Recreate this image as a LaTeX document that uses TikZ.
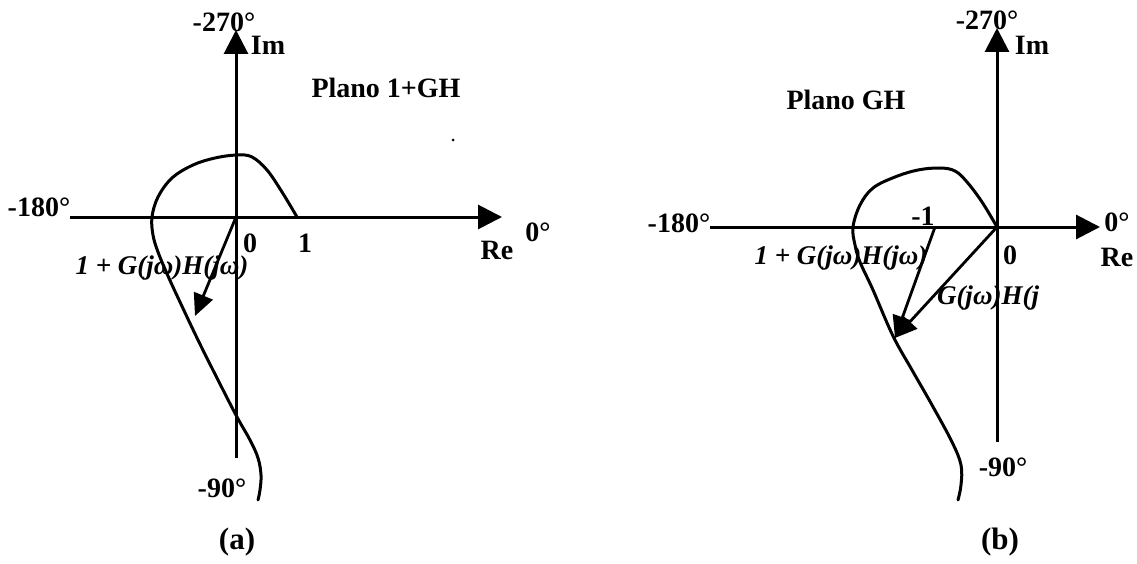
\documentclass[tikz,border=0pt]{standalone}
\usepackage{fontspec}
\setmainfont{Liberation Serif}
\usetikzlibrary{arrows.meta}
\tikzset{
  ax/.style={line width=3pt, -{Triangle[length=24pt,width=24pt]}},
  vec/.style={line width=2.8pt, -{Triangle[length=22pt,width=20pt]}},
  crv/.style={line width=3pt, line join=round, line cap=round},
  lbl/.style={font=\fontsize{28}{30}\selectfont\bfseries, inner sep=0pt},
  vlbl/.style={font=\fontsize{27}{30}\selectfont\bfseries\itshape, inner sep=0pt},
  capt/.style={font=\fontsize{31}{34}\selectfont\bfseries, inner sep=0pt},
}

\begin{document}
\begin{tikzpicture}[x=1pt,y=-1pt]
\useasboundingbox (0,0) rectangle (1137,564);
\coordinate (oa) at (236,217);
\coordinate (ima) at (236,30);
\coordinate (bota) at (236,458);
\coordinate (lefta) at (70,217);
\coordinate (rea) at (502,217);
\coordinate (pa) at (195,316);
\draw[ax] (bota) -- (ima);
\draw[ax] (lefta) -- (rea);
\draw[crv] plot[smooth,tension=0.6] coordinates {(297,217) (282,192) (267,170) (252,157) (237,155)
  (215,158) (193,165) (172,178) (158,197) (152,217) (153,235) (158,252) (168,276) (180,302)
  (198,340) (218,380) (237,417) (250,440) (258,458) (261,475) (260,490) (258,500)};
\draw[vec] (oa) -- (pa);
\fill (453,140) circle (1.5pt);
\node[lbl] (m180a) at (39,207) {-180°};
\node[lbl] (m270a) at (224,22) {-270°};
\node[lbl] (ima-l) at (268,45) {Im};
\node[lbl] (z0a) at (538,232) {0°};
\node[lbl] (rea-l) at (497,250) {Re};
\node[lbl] (zeroa) at (250,243) {0};
\node[lbl] (onea) at (305,243) {1};
\node[lbl] (plana) at (386,88) {Plano 1+GH};
\node[vlbl] (veca) at (162,268) {1 + G(jω)H(jω)};
\node[lbl] (m90a) at (222,488) {-90°};
\node[capt] (capa) at (237,542) {(a)};
\coordinate (ob) at (997,227);
\coordinate (imb) at (997,28);
\coordinate (botb) at (997,442);
\coordinate (leftb) at (710,227);
\coordinate (reb) at (1100,227);
\coordinate (mb) at (935,227);
\coordinate (pb) at (895,338);
\draw[ax] (botb) -- (imb);
\draw[ax] (leftb) -- (reb);
\draw[crv] plot[smooth,tension=0.6] coordinates {(997,227) (982,202) (967,182) (955,171) (940,168)
  (918,170) (895,177) (873,188) (860,205) (853,227) (855,245) (860,262) (873,290) (893,336)
  (912,370) (932,405) (952,442) (961,465) (961,485) (958,500)};
\draw[vec] (ob) -- (pb);
\draw[vec] (mb) -- (pb);
\node[lbl] (m180b) at (679,223) {-180°};
\node[lbl] (m270b) at (987,20) {-270°};
\node[lbl] (imb-l) at (1032,45) {Im};
\node[lbl] (z0b) at (1117,222) {0°};
\node[lbl] (reb-l) at (1117,257) {Re};
\node[lbl] (zerob) at (1010,255) {0};
\node[lbl] (mone) at (923,216) {-1};
\node[lbl] (planb) at (846,100) {Plano GH};
\node[vlbl] (vecb) at (841,258) {1 + G(jω)H(jω)};
\node[vlbl] (ghb) at (988,298) {G(jω)H(j};
\node[lbl] (m90b) at (1003,467) {-90°};
\node[capt] (capb) at (1000,542) {(b)};
\end{tikzpicture}
\end{document}
